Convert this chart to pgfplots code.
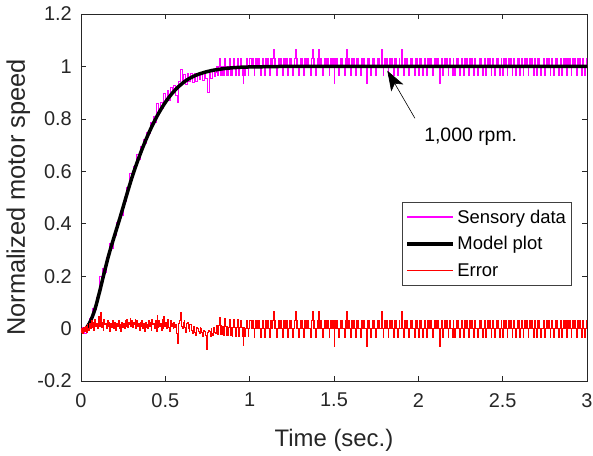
\documentclass[border=0pt]{standalone}
\usepackage{fontspec}
\setmainfont{Liberation Sans}
\usepackage{pgfplots}
\pgfplotsset{compat=1.18}
\usepackage{pgfplotstable}
\usetikzlibrary{arrows.meta}

\definecolor{axgray}{rgb}{0.15,0.15,0.15}
\definecolor{mlmag}{rgb}{1,0,1}
\definecolor{mlred}{rgb}{1,0,0}

% sensory data during the rise
\pgfplotstableread{
t s
0.00 -0.015
0.01 0.005
0.02 -0.020
0.03 0.013
0.04 0.005
0.05 0.040
0.06 0.034
0.07 0.075
0.08 0.073
0.09 0.120
0.10 0.125
0.11 0.200
0.12 0.181
0.13 0.228
0.14 0.214
0.15 0.270
0.16 0.275
0.17 0.323
0.18 0.305
0.19 0.356
0.20 0.357
0.21 0.403
0.22 0.404
0.23 0.435
0.24 0.432
0.25 0.484
0.26 0.486
0.27 0.538
0.28 0.540
0.29 0.591
0.30 0.577
0.31 0.617
0.32 0.626
0.33 0.664
0.34 0.647
0.35 0.694
0.36 0.691
0.37 0.722
0.38 0.708
0.39 0.748
0.40 0.743
0.41 0.787
0.42 0.781
0.43 0.809
0.44 0.787
0.45 0.859
0.46 0.826
0.47 0.862
0.48 0.838
0.49 0.898
0.50 0.873
0.51 0.907
0.52 0.871
0.53 0.919
0.54 0.902
0.55 0.929
0.56 0.891
0.57 0.863
0.58 0.944
0.59 0.990
0.60 0.935
0.61 0.970
0.62 0.930
0.63 0.974
0.64 0.943
0.65 0.972
0.66 0.940
0.67 0.973
0.68 0.941
0.69 0.974
0.70 0.951
0.71 0.973
0.72 0.945
0.73 0.972
0.74 0.954
0.75 0.901
0.76 0.972
0.77 0.954
0.78 0.985
0.79 0.961
0.80 0.977
}\riseS

% error during the rise
\pgfplotstableread{
t e
0.000 -0.015
0.005 0.000
0.010 -0.020
0.015 0.005
0.020 -0.010
0.025 0.010
0.030 -0.015
0.035 0.015
0.040 0.000
0.045 -0.005
0.050 0.020
0.055 0.000
0.060 0.030
0.065 0.005
0.070 0.025
0.075 -0.005
0.080 0.035
0.085 0.010
0.090 0.020
0.095 0.000
0.100 0.030
0.105 0.045
0.110 0.010
0.115 0.060
0.120 0.005
0.125 0.025
0.130 -0.005
0.135 0.035
0.140 0.015
0.145 0.020
0.150 0.000
0.155 0.030
0.160 0.010
0.165 0.025
0.170 -0.010
0.175 0.020
0.180 0.005
0.185 0.030
0.190 0.000
0.195 0.015
0.200 0.025
0.205 -0.005
0.210 0.020
0.215 0.010
0.220 0.030
0.225 0.000
0.230 0.015
0.235 -0.010
0.240 0.025
0.245 0.005
0.250 0.020
0.255 0.000
0.260 0.030
0.265 0.010
0.270 0.035
0.275 0.005
0.280 0.025
0.285 0.015
0.290 0.040
0.295 0.010
0.300 0.030
0.305 0.005
0.310 0.025
0.315 0.015
0.320 0.035
0.325 0.000
0.330 0.030
0.335 0.010
0.340 0.020
0.345 -0.005
0.350 0.025
0.355 0.010
0.360 0.030
0.365 0.000
0.370 0.020
0.375 -0.010
0.380 0.025
0.385 0.005
0.390 0.015
0.395 0.000
0.400 0.030
0.405 0.010
0.410 0.025
0.415 -0.005
0.420 0.035
0.425 0.015
0.430 0.020
0.435 0.000
0.440 0.030
0.445 -0.010
0.450 0.050
0.455 0.005
0.460 0.030
0.465 0.010
0.470 0.020
0.475 -0.005
0.480 0.035
0.485 0.000
0.490 0.045
0.495 0.010
0.500 0.025
0.505 0.000
0.510 0.035
0.515 0.015
0.520 0.005
0.525 -0.010
0.530 0.030
0.535 0.010
0.540 0.020
0.545 0.000
0.550 0.025
0.555 0.005
0.560 0.015
0.565 -0.020
0.570 -0.055
0.575 0.000
0.580 0.020
0.585 0.030
0.590 0.060
0.595 0.010
0.600 0.000
0.605 0.025
0.610 0.030
0.615 0.005
0.620 -0.015
0.625 0.020
0.630 0.025
0.635 0.000
0.640 -0.010
0.645 0.015
0.650 0.015
0.655 -0.005
0.660 -0.020
0.665 0.010
0.670 0.005
0.675 -0.015
0.680 -0.025
0.685 0.005
0.690 0.000
0.695 -0.010
0.700 -0.020
0.705 0.005
0.710 0.000
0.715 -0.015
0.720 -0.030
0.725 -0.005
0.730 -0.010
0.735 -0.020
0.740 -0.025
0.745 -0.080
0.750 -0.015
0.755 -0.005
0.760 -0.010
0.765 -0.030
0.770 0.000
0.775 -0.020
0.780 -0.025
0.785 0.005
0.790 -0.015
0.795 -0.020
0.800 -0.010
}\riseE

% steady part: t, sensory data, error
\pgfplotstableread{
t s e
0.800 0.977 -0.010
0.805 1.000 0.011
0.810 0.967 -0.022
0.815 1.000 0.011
0.820 1.030 0.041
0.825 0.967 -0.022
0.830 1.000 0.011
0.835 0.967 -0.022
0.840 1.000 0.010
0.845 0.967 -0.024
0.850 1.030 0.038
0.855 1.000 0.007
0.860 0.967 -0.026
0.865 1.000 0.007
0.870 0.967 -0.026
0.875 1.000 0.006
0.880 1.030 0.036
0.885 0.967 -0.027
0.890 1.000 0.006
0.895 0.967 -0.028
0.900 1.000 0.005
0.905 1.030 0.034
0.910 1.000 0.004
0.915 0.967 -0.029
0.920 1.000 0.004
0.925 1.030 0.034
0.930 1.000 0.004
0.935 0.967 -0.029
0.940 1.000 0.003
0.945 1.030 0.033
0.950 1.000 0.003
0.955 0.967 -0.030
0.960 0.934 -0.063
0.965 1.000 0.003
0.970 0.967 -0.030
0.975 1.000 0.002
0.980 1.030 0.032
0.985 1.000 0.002
0.990 0.967 -0.031
0.995 1.000 0.002
1.000 1.030 0.032
1.005 1.030 0.030
1.010 1.000 0.000
1.015 1.030 0.030
1.020 1.000 0.000
1.025 0.967 -0.033
1.030 1.000 0.000
1.035 1.030 0.030
1.040 1.000 0.000
1.045 1.030 0.030
1.050 1.000 0.000
1.055 1.030 0.030
1.060 1.000 0.000
1.065 0.967 -0.033
1.070 1.000 0.000
1.075 1.030 0.030
1.080 1.000 0.000
1.085 1.000 0.000
1.090 0.967 -0.033
1.095 1.030 0.030
1.100 1.000 0.000
1.105 1.030 0.030
1.110 1.000 0.000
1.115 0.967 -0.033
1.120 1.000 0.000
1.125 1.030 0.030
1.130 1.000 0.000
1.135 1.030 0.030
1.140 1.064 0.064
1.145 1.000 0.000
1.150 1.030 0.030
1.155 1.000 0.000
1.160 0.967 -0.033
1.165 1.000 0.000
1.170 1.030 0.030
1.175 1.000 0.000
1.180 1.030 0.030
1.185 1.000 0.000
1.190 1.000 0.000
1.195 0.967 -0.033
1.200 1.030 0.030
1.205 1.000 0.000
1.210 1.030 0.030
1.215 1.000 0.000
1.220 1.030 0.030
1.225 0.967 -0.033
1.230 1.000 0.000
1.235 1.030 0.030
1.240 1.000 0.000
1.245 1.030 0.030
1.250 1.000 0.000
1.255 0.967 -0.033
1.260 1.000 0.000
1.265 1.030 0.030
1.270 1.064 0.064
1.275 1.000 0.000
1.280 1.030 0.030
1.285 1.000 0.000
1.290 0.967 -0.033
1.295 1.000 0.000
1.300 1.030 0.030
1.305 1.000 0.000
1.310 1.030 0.030
1.315 1.000 0.000
1.320 0.967 -0.033
1.325 1.030 0.030
1.330 1.000 0.000
1.335 1.030 0.030
1.340 1.000 0.000
1.345 1.030 0.030
1.350 1.000 0.000
1.355 1.000 0.000
1.360 0.967 -0.033
1.365 1.030 0.030
1.370 1.064 0.064
1.375 1.000 0.000
1.380 1.030 0.030
1.385 1.000 0.000
1.390 0.967 -0.033
1.395 1.000 0.000
1.400 1.030 0.030
1.405 1.000 0.000
1.410 1.064 0.064
1.415 1.000 0.000
1.420 1.030 0.030
1.425 1.000 0.000
1.430 0.967 -0.033
1.435 1.000 0.000
1.440 1.030 0.030
1.445 1.000 0.000
1.450 1.030 0.030
1.455 1.000 0.000
1.460 1.030 0.030
1.465 1.000 0.000
1.470 0.967 -0.033
1.475 1.000 0.000
1.480 1.030 0.030
1.485 1.000 0.000
1.490 1.030 0.030
1.495 1.000 0.000
1.500 0.934 -0.066
1.505 1.030 0.030
1.510 1.000 0.000
1.515 1.030 0.030
1.520 1.000 0.000
1.525 0.967 -0.033
1.530 1.000 0.000
1.535 1.030 0.030
1.540 1.000 0.000
1.545 1.030 0.030
1.550 1.000 0.000
1.555 1.000 0.000
1.560 0.967 -0.033
1.565 1.030 0.030
1.570 1.000 0.000
1.575 1.064 0.064
1.580 1.000 0.000
1.585 1.030 0.030
1.590 1.000 0.000
1.595 0.967 -0.033
1.600 1.000 0.000
1.605 1.030 0.030
1.610 1.000 0.000
1.615 1.030 0.030
1.620 1.000 0.000
1.625 0.967 -0.033
1.630 1.030 0.030
1.635 1.000 0.000
1.640 1.030 0.030
1.645 1.000 0.000
1.650 1.000 0.000
1.655 0.967 -0.033
1.660 1.000 0.000
1.665 1.030 0.030
1.670 1.000 0.000
1.675 1.030 0.030
1.680 1.000 0.000
1.685 1.000 0.000
1.690 0.934 -0.066
1.695 1.030 0.030
1.700 1.000 0.000
1.705 1.030 0.030
1.710 1.000 0.000
1.715 0.967 -0.033
1.720 1.000 0.000
1.725 1.030 0.030
1.730 1.000 0.000
1.735 1.030 0.030
1.740 1.000 0.000
1.745 0.967 -0.033
1.750 1.000 0.000
1.755 1.030 0.030
1.760 1.000 0.000
1.765 1.030 0.030
1.770 1.000 0.000
1.775 1.000 0.000
1.780 1.064 0.064
1.785 1.000 0.000
1.790 0.967 -0.033
1.795 1.000 0.000
1.800 1.030 0.030
1.805 1.000 0.000
1.810 1.030 0.030
1.815 1.000 0.000
1.820 0.967 -0.033
1.825 1.000 0.000
1.830 1.030 0.030
1.835 1.000 0.000
1.840 1.030 0.030
1.845 1.000 0.000
1.850 0.967 -0.033
1.855 1.030 0.030
1.860 1.000 0.000
1.865 1.030 0.030
1.870 1.000 0.000
1.875 0.967 -0.033
1.880 1.000 0.000
1.885 1.030 0.030
1.890 1.000 0.000
1.895 1.000 0.000
1.900 1.064 0.064
1.905 1.000 0.000
1.910 0.967 -0.033
1.915 1.000 0.000
1.920 1.030 0.030
1.925 1.000 0.000
1.930 1.030 0.030
1.935 1.000 0.000
1.940 0.967 -0.033
1.945 1.000 0.000
1.950 1.030 0.030
1.955 1.000 0.000
1.960 1.030 0.030
1.965 1.000 0.000
1.970 1.000 0.000
1.975 0.967 -0.033
1.980 1.030 0.030
1.985 1.000 0.000
1.990 1.030 0.030
1.995 1.000 0.000
2.000 0.967 -0.033
2.005 1.030 0.030
2.010 1.000 0.000
2.015 1.030 0.030
2.020 1.000 0.000
2.025 0.967 -0.033
2.030 1.000 0.000
2.035 1.030 0.030
2.040 1.000 0.000
2.045 1.000 0.000
2.050 0.967 -0.033
2.055 1.030 0.030
2.060 1.000 0.000
2.065 1.030 0.030
2.070 1.000 0.000
2.075 1.030 0.030
2.080 1.000 0.000
2.085 0.967 -0.033
2.090 1.000 0.000
2.095 1.030 0.030
2.100 1.000 0.000
2.105 1.030 0.030
2.110 1.000 0.000
2.115 1.030 0.030
2.120 1.000 0.000
2.125 0.934 -0.066
2.130 1.000 0.000
2.135 1.030 0.030
2.140 1.000 0.000
2.145 0.967 -0.033
2.150 1.000 0.000
2.155 1.030 0.030
2.160 1.000 0.000
2.165 1.030 0.030
2.170 1.000 0.000
2.175 0.967 -0.033
2.180 1.000 0.000
2.185 1.030 0.030
2.190 1.000 0.000
2.195 1.000 0.000
2.200 0.967 -0.033
2.205 1.030 0.030
2.210 1.000 0.000
2.215 0.967 -0.033
2.220 1.000 0.000
2.225 1.030 0.030
2.230 1.000 0.000
2.235 1.030 0.030
2.240 1.000 0.000
2.245 0.967 -0.033
2.250 1.000 0.000
2.255 1.030 0.030
2.260 1.000 0.000
2.265 0.967 -0.033
2.270 1.000 0.000
2.275 1.030 0.030
2.280 1.000 0.000
2.285 1.030 0.030
2.290 1.000 0.000
2.295 0.967 -0.033
2.300 1.000 0.000
2.305 1.030 0.030
2.310 1.000 0.000
2.315 1.030 0.030
2.320 1.000 0.000
2.325 0.967 -0.033
2.330 1.000 0.000
2.335 1.030 0.030
2.340 1.000 0.000
2.345 1.000 0.000
2.350 0.967 -0.033
2.355 1.000 0.000
2.360 1.030 0.030
2.365 1.000 0.000
2.370 1.030 0.030
2.375 1.000 0.000
2.380 0.967 -0.033
2.385 1.000 0.000
2.390 1.030 0.030
2.395 1.000 0.000
2.400 0.967 -0.033
2.405 1.000 0.000
2.410 1.030 0.030
2.415 1.000 0.000
2.420 1.030 0.030
2.425 1.000 0.000
2.430 0.967 -0.033
2.435 1.000 0.000
2.440 1.030 0.030
2.445 1.000 0.000
2.450 0.967 -0.033
2.455 1.000 0.000
2.460 1.030 0.030
2.465 1.000 0.000
2.470 1.030 0.030
2.475 1.000 0.000
2.480 0.967 -0.033
2.485 1.000 0.000
2.490 1.030 0.030
2.495 1.000 0.000
2.500 0.967 -0.033
2.505 1.030 0.030
2.510 1.000 0.000
2.515 1.030 0.030
2.520 1.000 0.000
2.525 0.967 -0.033
2.530 1.000 0.000
2.535 1.030 0.030
2.540 1.000 0.000
2.545 1.030 0.030
2.550 1.000 0.000
2.555 0.967 -0.033
2.560 1.000 0.000
2.565 1.030 0.030
2.570 1.000 0.000
2.575 0.967 -0.033
2.580 1.000 0.000
2.585 1.030 0.030
2.590 1.000 0.000
2.595 1.030 0.030
2.600 0.967 -0.033
2.605 1.000 0.000
2.610 1.030 0.030
2.615 1.000 0.000
2.620 0.967 -0.033
2.625 1.000 0.000
2.630 1.030 0.030
2.635 1.000 0.000
2.640 1.030 0.030
2.645 1.000 0.000
2.650 0.967 -0.033
2.655 1.000 0.000
2.660 1.030 0.030
2.665 1.000 0.000
2.670 1.030 0.030
2.675 1.000 0.000
2.680 0.967 -0.033
2.685 1.000 0.000
2.690 1.030 0.030
2.695 1.000 0.000
2.700 0.967 -0.033
2.705 1.030 0.030
2.710 1.000 0.000
2.715 1.030 0.030
2.720 1.000 0.000
2.725 0.967 -0.033
2.730 1.000 0.000
2.735 1.000 0.000
2.740 1.030 0.030
2.745 1.000 0.000
2.750 0.967 -0.033
2.755 1.000 0.000
2.760 1.030 0.030
2.765 1.000 0.000
2.770 1.030 0.030
2.775 1.000 0.000
2.780 0.967 -0.033
2.785 1.000 0.000
2.790 1.030 0.030
2.795 1.000 0.000
2.800 0.967 -0.033
2.805 1.000 0.000
2.810 1.030 0.030
2.815 1.000 0.000
2.820 1.030 0.030
2.825 1.000 0.000
2.830 0.967 -0.033
2.835 1.000 0.000
2.840 1.030 0.030
2.845 1.000 0.000
2.850 0.967 -0.033
2.855 1.000 0.000
2.860 1.030 0.030
2.865 1.000 0.000
2.870 1.030 0.030
2.875 1.000 0.000
2.880 0.967 -0.033
2.885 1.030 0.030
2.890 1.000 0.000
2.895 1.030 0.030
2.900 1.000 0.000
2.905 0.967 -0.033
2.910 1.000 0.000
2.915 1.030 0.030
2.920 1.000 0.000
2.925 1.030 0.030
2.930 1.000 0.000
2.935 0.967 -0.033
2.940 1.000 0.000
2.945 1.030 0.030
2.950 1.000 0.000
2.955 1.030 0.030
2.960 1.000 0.000
2.965 0.967 -0.033
2.970 1.000 0.000
2.975 1.030 0.030
2.980 1.000 0.000
2.985 0.967 -0.033
2.990 1.000 0.000
2.995 1.030 0.030
3.000 1.000 0.000
}\steady

\begin{document}
\begin{tikzpicture}
\useasboundingbox (-81bp,-75bp) rectangle (512bp,381bp);
\begin{axis}[
    at={(0,0)}, anchor=south west,
    scale only axis,
    width=506bp, height=367bp,
    xmin=0, xmax=3, ymin=-0.2, ymax=1.2,
    xtick={0,0.5,1,1.5,2,2.5,3},
    xticklabels={0,0.5,1,1.5,2,2.5,3},
    ytick={-0.2,0,0.2,0.4,0.6,0.8,1,1.2},
    yticklabels={-0.2,0,0.2,0.4,0.6,0.8,1,1.2},
    xtick pos=both, ytick pos=both,
    xticklabel pos=lower, yticklabel pos=left,
    tick align=inside,
    major tick length=5bp,
    axis line style={line width=0.8bp, axgray},
    tick style={line width=0.6bp, axgray},
    xticklabel style={font=\fontsize{20}{24}\selectfont, text=axgray, anchor=north, inner sep=0pt, yshift=-12bp},
    yticklabel style={font=\fontsize{20}{24}\selectfont, text=axgray, anchor=east, inner sep=0pt, xshift=-9bp},
    xlabel={Time (sec.)},
    xlabel style={at={(axis description cs:0.5,0)}, anchor=base, yshift=-65bp,
        font=\fontsize{24}{28}\selectfont, text=axgray, inner sep=0pt},
    ylabel={Normalized motor speed},
    ylabel style={at={([xshift=-56bp]axis description cs:0,0.5)}, anchor=base,
        font=\fontsize{25.5}{29}\selectfont, text=axgray, inner sep=0pt},
    legend cell align=left,
    legend image code/.code={\draw[#1] (0bp,0bp) -- (46bp,0bp);},
    legend style={at={(0.970,0.488)}, anchor=north east,
        draw=black!75, line width=0.6bp, fill=white,
        font=\fontsize{18.5}{21}\selectfont,
        inner xsep=3bp, inner ysep=5bp, row sep=7bp,
        nodes={inner sep=2.5bp}},
]
\addplot[mlmag, line width=0.9bp, const plot, forget plot] table[x=t, y=s] {\riseS};
\addplot[mlmag, line width=0.7bp, const plot,
    legend image code/.code={\draw[mlmag, line width=1.4bp] (0bp,0bp) -- (46bp,0bp);}]
    table[x=t, y=s] {\steady};
\addlegendentry{Sensory data}
\addplot[black, line width=3.5bp] coordinates {
(0.03,0.000)(0.04,0.010)(0.05,0.020)(0.06,0.034)(0.07,0.050)(0.08,0.068)
(0.09,0.090)(0.10,0.115)(0.11,0.140)(0.12,0.166)(0.13,0.193)(0.14,0.219)
(0.15,0.245)(0.16,0.270)(0.17,0.293)(0.18,0.315)(0.19,0.336)(0.20,0.357)
(0.21,0.378)(0.22,0.399)(0.23,0.420)(0.24,0.442)(0.25,0.464)(0.26,0.486)
(0.27,0.508)(0.28,0.530)(0.29,0.551)(0.30,0.572)(0.31,0.592)(0.32,0.611)
(0.33,0.629)(0.34,0.647)(0.35,0.664)(0.36,0.681)(0.37,0.697)(0.38,0.713)
(0.39,0.728)(0.40,0.743)(0.42,0.771)(0.44,0.797)(0.46,0.821)(0.48,0.843)
(0.50,0.863)(0.52,0.881)(0.54,0.897)(0.56,0.911)(0.58,0.924)(0.60,0.935)
(0.62,0.945)(0.64,0.953)(0.66,0.960)(0.68,0.966)(0.70,0.971)(0.72,0.975)
(0.74,0.979)(0.76,0.982)(0.78,0.985)(0.80,0.987)(0.85,0.992)(0.90,0.995)
(0.95,0.997)(1.00,0.998)(1.10,0.999)(1.20,1.000)(3.00,1.000)
};
\addlegendentry{Model plot}
\addplot[mlred, line width=0.7bp, const plot, forget plot] table[x=t, y=e] {\riseE};
\addplot[mlred, line width=0.7bp, const plot] table[x=t, y=e] {\steady};
\addlegendentry{Error}

\draw[-{Stealth[length=20bp, width=14bp, inset=5bp]}, line width=0.6bp, black]
    (axis cs:1.98,0.802) -- (axis cs:1.816,0.984);
\node[anchor=base west, inner sep=0pt, font=\fontsize{19.5}{23}\selectfont, text=black]
    at (axis cs:2.034,0.713) {1,000 rpm.};
\end{axis}
\end{tikzpicture}
\end{document}
